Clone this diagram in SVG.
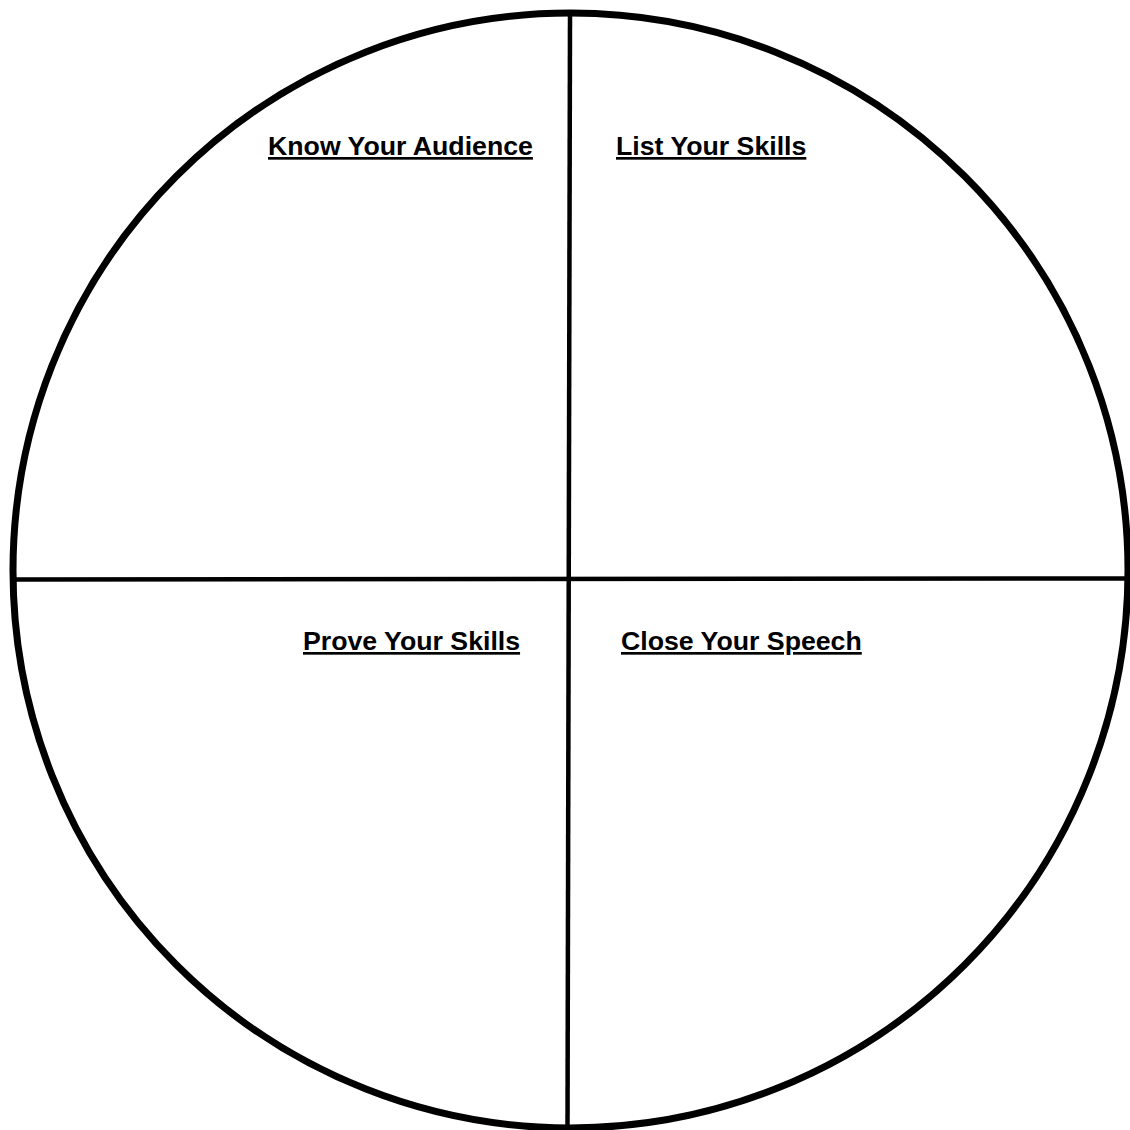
<svg xmlns="http://www.w3.org/2000/svg" width="1130" height="1130" viewBox="0 0 1130 1130">
<style>
.lbl{font-family:"Liberation Sans",Arial,sans-serif;font-weight:bold;font-size:26.7px;fill:#000;text-decoration:underline}
.ln{stroke:#000;stroke-width:4.5;fill:none}
</style>
<rect width="1130" height="1130" fill="#fff"/>
<g id="circle"><circle cx="570.5" cy="570.5" r="557.5" fill="none" stroke="#000" stroke-width="7"/></g>
<g id="connectors">
<line class="ln" x1="570" y1="14" x2="567.5" y2="1128"/>
<line class="ln" x1="14" y1="579.5" x2="1130" y2="578.5"/>
</g>
<g id="q1"><text class="lbl" x="268" y="155">Know Your Audience</text></g>
<g id="q2"><text class="lbl" x="616" y="155">List Your Skills</text></g>
<g id="q3"><text class="lbl" x="303" y="650">Prove Your Skills</text></g>
<g id="q4"><text class="lbl" x="621" y="650">Close Your Speech</text></g>
</svg>
